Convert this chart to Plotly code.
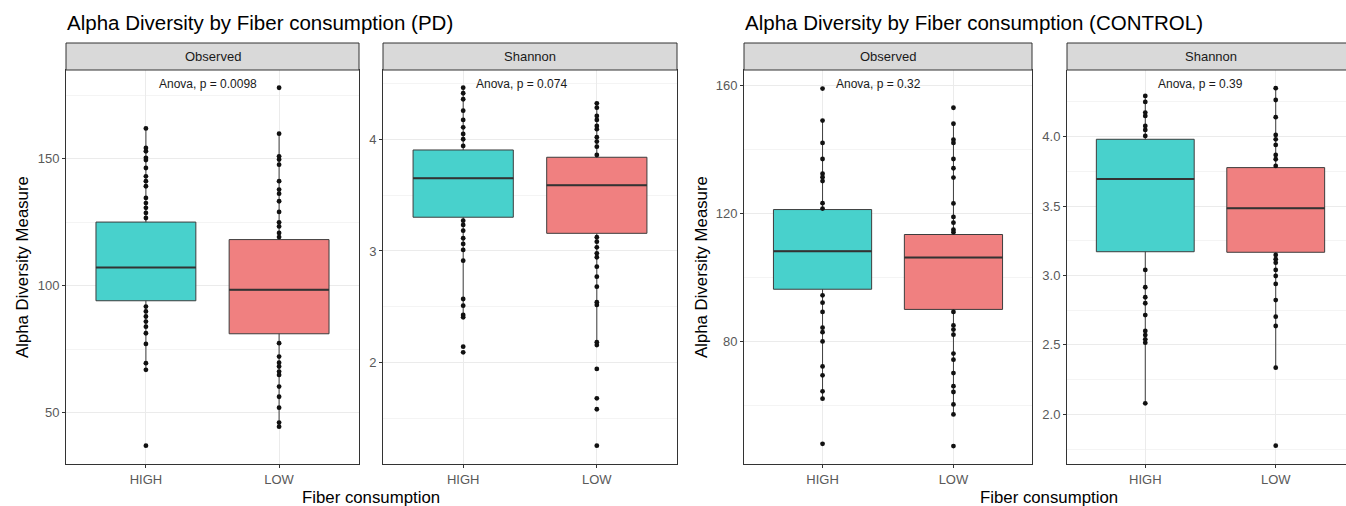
import plotly.graph_objects as go

W, H = 1346, 506

categories = ["HIGH", "LOW"]
panel_titles = ["Observed", "Shannon", "Observed", "Shannon"]
anova_labels = ["Anova, p = 0.0098", "Anova, p = 0.074", "Anova, p = 0.32", "Anova, p = 0.39"]
main_titles = ["Alpha Diversity by Fiber consumption (PD)", "Alpha Diversity by Fiber consumption (CONTROL)"]
y_title = "Alpha Diversity Measure"
x_title = "Fiber consumption"

# ---- box statistics (HIGH, LOW) per panel ----
pd_obs_q1 = [94.1, 81.1]
pd_obs_med = [107.2, 98.4]
pd_obs_q3 = [125.1, 118.2]
pd_obs_lo = [66.9, 44.5]
pd_obs_hi = [162.0, 159.9]

pd_sha_q1 = [3.302, 3.158]
pd_sha_med = [3.651, 3.588]
pd_sha_q3 = [3.904, 3.839]
pd_sha_lo = [2.406, 2.158]
pd_sha_hi = [4.462, 4.322]

ct_obs_q1 = [96.2, 89.9]
ct_obs_med = [108.1, 106.1]
ct_obs_q3 = [121.1, 113.3]
ct_obs_lo = [62.0, 57.1]
ct_obs_hi = [148.9, 147.9]

ct_sha_q1 = [3.171, 3.167]
ct_sha_med = [3.695, 3.484]
ct_sha_q3 = [3.981, 3.777]
ct_sha_lo = [2.079, 2.336]
ct_sha_hi = [4.293, 4.349]

# ---- visible sample points ----
pd_obs_high = [162.0, 154.3, 153.0, 150.4, 149.5, 146.4, 143.1, 141.2, 139.2, 134.6, 132.6,
               130.7, 128.7, 126.7, 91.8, 89.9, 87.9, 85.9, 83.9, 81.3, 77.1, 69.5, 66.9, 37.0]
pd_obs_low = [178.0, 159.9, 151.0, 149.7, 147.7, 141.2, 137.9, 136.3, 133.3, 129.1, 125.0,
              123.4, 120.8, 119.2, 77.4, 72.1, 69.7, 68.2, 66.2, 64.9, 60.3, 56.3, 52.0, 46.1, 44.5]
pd_sha_high = [4.462, 4.412, 4.358, 4.256, 4.173, 4.107, 4.047, 4.0, 3.94, 3.271, 3.233, 3.182,
               3.114, 3.063, 3.009, 2.913, 2.570, 2.510, 2.427, 2.406, 2.143, 2.093]
pd_sha_low = [4.322, 4.283, 4.209, 4.173, 4.119, 4.09, 4.018, 3.979, 3.934, 3.859, 3.123, 3.083,
              3.033, 2.979, 2.944, 2.859, 2.770, 2.68, 2.541, 2.517, 2.183, 2.158, 1.944, 1.681,
              1.583, 1.257]
ct_obs_high = [158.9, 148.9, 141.9, 136.9, 132.3, 131.2, 130.0, 123.1, 121.4, 94.3, 92.0, 89.1,
               84.2, 82.8, 79.9, 72.1, 69.3, 64.3, 62.0, 47.9]
ct_obs_low = [152.9, 147.9, 142.9, 141.9, 136.9, 134.0, 131.1, 123.0, 118.8, 117.0, 114.8, 114.0,
              89.1, 84.9, 83.6, 82.0, 76.1, 74.2, 70.0, 65.9, 64.1, 60.2, 57.1, 47.2]
ct_sha_high = [4.293, 4.25, 4.173, 4.149, 4.077, 4.048, 4.005, 3.04, 2.915, 2.843, 2.80, 2.715,
               2.60, 2.571, 2.54, 2.516, 2.079]
ct_sha_low = [4.349, 4.264, 4.14, 4.012, 3.981, 3.94, 3.868, 3.837, 3.789, 3.148, 3.117, 3.092,
              3.04, 2.996, 2.939, 2.823, 2.703, 2.636, 2.336, 1.774]

# ---- axis settings ----
y_ranges = [[29.8, 185], [1.093, 4.62], [41.6, 164.7], [1.642, 4.48]]
y_dticks = [50, 1, 40, 0.5]
y_formats = ["", "", "", ".1f"]

fill_colors = ["#48D1CC", "#F08080"]

panels = [
    (pd_obs_q1, pd_obs_med, pd_obs_q3, pd_obs_lo, pd_obs_hi, [pd_obs_high, pd_obs_low]),
    (pd_sha_q1, pd_sha_med, pd_sha_q3, pd_sha_lo, pd_sha_hi, [pd_sha_high, pd_sha_low]),
    (ct_obs_q1, ct_obs_med, ct_obs_q3, ct_obs_lo, ct_obs_hi, [ct_obs_high, ct_obs_low]),
    (ct_sha_q1, ct_sha_med, ct_sha_q3, ct_sha_lo, ct_sha_hi, [ct_sha_high, ct_sha_low]),
]

# pixel layout
panel_px = [(66, 359), (383, 677), (744, 1032), (1067, 1354)]
top_px, bot_px, strip_top_px = 70, 464, 43

def fx(p):
    return p / W

def fy(p):
    return 1 - p / H

fig = go.Figure()
box_w = 0.75

for k, (q1, med, q3, lo, hi, pts) in enumerate(panels):
    ax = "" if k == 0 else str(k + 1)
    xr, yr = "x" + ax, "y" + ax
    for i in range(2):
        fig.add_trace(go.Scatter(
            x=[i] * len(pts[i]), y=pts[i], mode="markers",
            marker=dict(color="#111111", size=4.8), xaxis=xr, yaxis=yr,
            showlegend=False, hoverinfo="y"))
    for i in range(2):
        fig.add_trace(go.Box(
            x=[i], q1=[q1[i]], median=[med[i]], q3=[q3[i]],
            lowerfence=[lo[i]], upperfence=[hi[i]],
            width=box_w, whiskerwidth=0, fillcolor=fill_colors[i],
            line=dict(color="#3d3d3d", width=1), xaxis=xr, yaxis=yr,
            showlegend=False, boxpoints=False))
        fig.add_trace(go.Scatter(
            x=[i - box_w / 2, i + box_w / 2], y=[med[i], med[i]], mode="lines",
            line=dict(color="#333333", width=2), xaxis=xr, yaxis=yr,
            showlegend=False, hoverinfo="skip"))

layout = dict(
    width=W, height=H, margin=dict(l=0, r=0, t=0, b=0),
    paper_bgcolor="white", plot_bgcolor="white", boxmode="overlay",
    font=dict(family="Liberation Sans, Arial, sans-serif", color="#1a1a1a"),
    showlegend=False,
)

shapes = []
annotations = []
for k in range(4):
    ax = "" if k == 0 else str(k + 1)
    x0p, x1p = panel_px[k]
    real_w = x1p - x0p
    dom_x1 = min(x1p, W)
    frac = (dom_x1 - x0p) / real_w
    xrng = [-0.6, -0.6 + 2.2 * frac]
    last = k == 3
    layout["xaxis" + ax] = dict(
        domain=[fx(x0p), fx(dom_x1)], anchor="y" + ax, range=xrng,
        tickvals=[0, 1], ticktext=categories,
        showgrid=True, gridcolor="#EBEBEB", gridwidth=1, zeroline=False,
        showline=True, linecolor="#333333", linewidth=1, mirror=not last,
        ticks="outside", ticklen=3, tickcolor="#333333",
        tickfont=dict(size=13, color="#595959"),
    )
    layout["yaxis" + ax] = dict(
        domain=[fy(bot_px), fy(top_px)], anchor="x" + ax, range=y_ranges[k],
        dtick=y_dticks[k], tick0=0, tickformat=y_formats[k],
        showgrid=True, gridcolor="#EBEBEB", gridwidth=1, zeroline=False,
        minor=dict(dtick=y_dticks[k] / 2, showgrid=True, gridcolor="#F4F4F4", gridwidth=1),
        showline=True, linecolor="#333333", linewidth=1, mirror=not last,
        ticks="outside", ticklen=3, tickcolor="#333333",
        tickfont=dict(size=13, color="#595959"),
    )
    # strip
    shapes.append(dict(type="rect", xref="paper", yref="paper",
                       x0=fx(x0p), x1=fx(x1p), y0=fy(top_px), y1=fy(strip_top_px),
                       fillcolor="#D9D9D9", line=dict(color="#333333", width=1), layer="above"))
    annotations.append(dict(text=panel_titles[k], xref="paper", yref="paper",
                            x=fx((x0p + x1p) / 2), y=fy((top_px + strip_top_px) / 2),
                            xanchor="center", yanchor="middle", showarrow=False,
                            font=dict(size=13, color="#1a1a1a")))
    annotations.append(dict(text=anova_labels[k], xref="x" + ax, yref="paper",
                            x=0, xshift=11, y=fy(84), xanchor="left", yanchor="middle",
                            showarrow=False, font=dict(size=12, color="#1a1a1a")))

for j, (tx, ytx, xtc) in enumerate([(65, 22, 371), (743, 701, 1049)]):
    annotations.append(dict(text=main_titles[j], xref="paper", yref="paper",
                            x=fx(tx), y=fy(23), xanchor="left", yanchor="middle",
                            showarrow=False, font=dict(size=20.5, color="#000000")))
    annotations.append(dict(text=y_title, xref="paper", yref="paper",
                            x=fx(ytx), y=fy((top_px + bot_px) / 2), textangle=-90,
                            xanchor="center", yanchor="middle", showarrow=False,
                            font=dict(size=16.8, color="#000000")))
    annotations.append(dict(text=x_title, xref="paper", yref="paper",
                            x=fx(xtc), y=fy(497), xanchor="center", yanchor="middle",
                            showarrow=False, font=dict(size=16.8, color="#000000")))

layout["shapes"] = shapes
layout["annotations"] = annotations
fig.update_layout(**layout)
fig.write_html("out.html")
